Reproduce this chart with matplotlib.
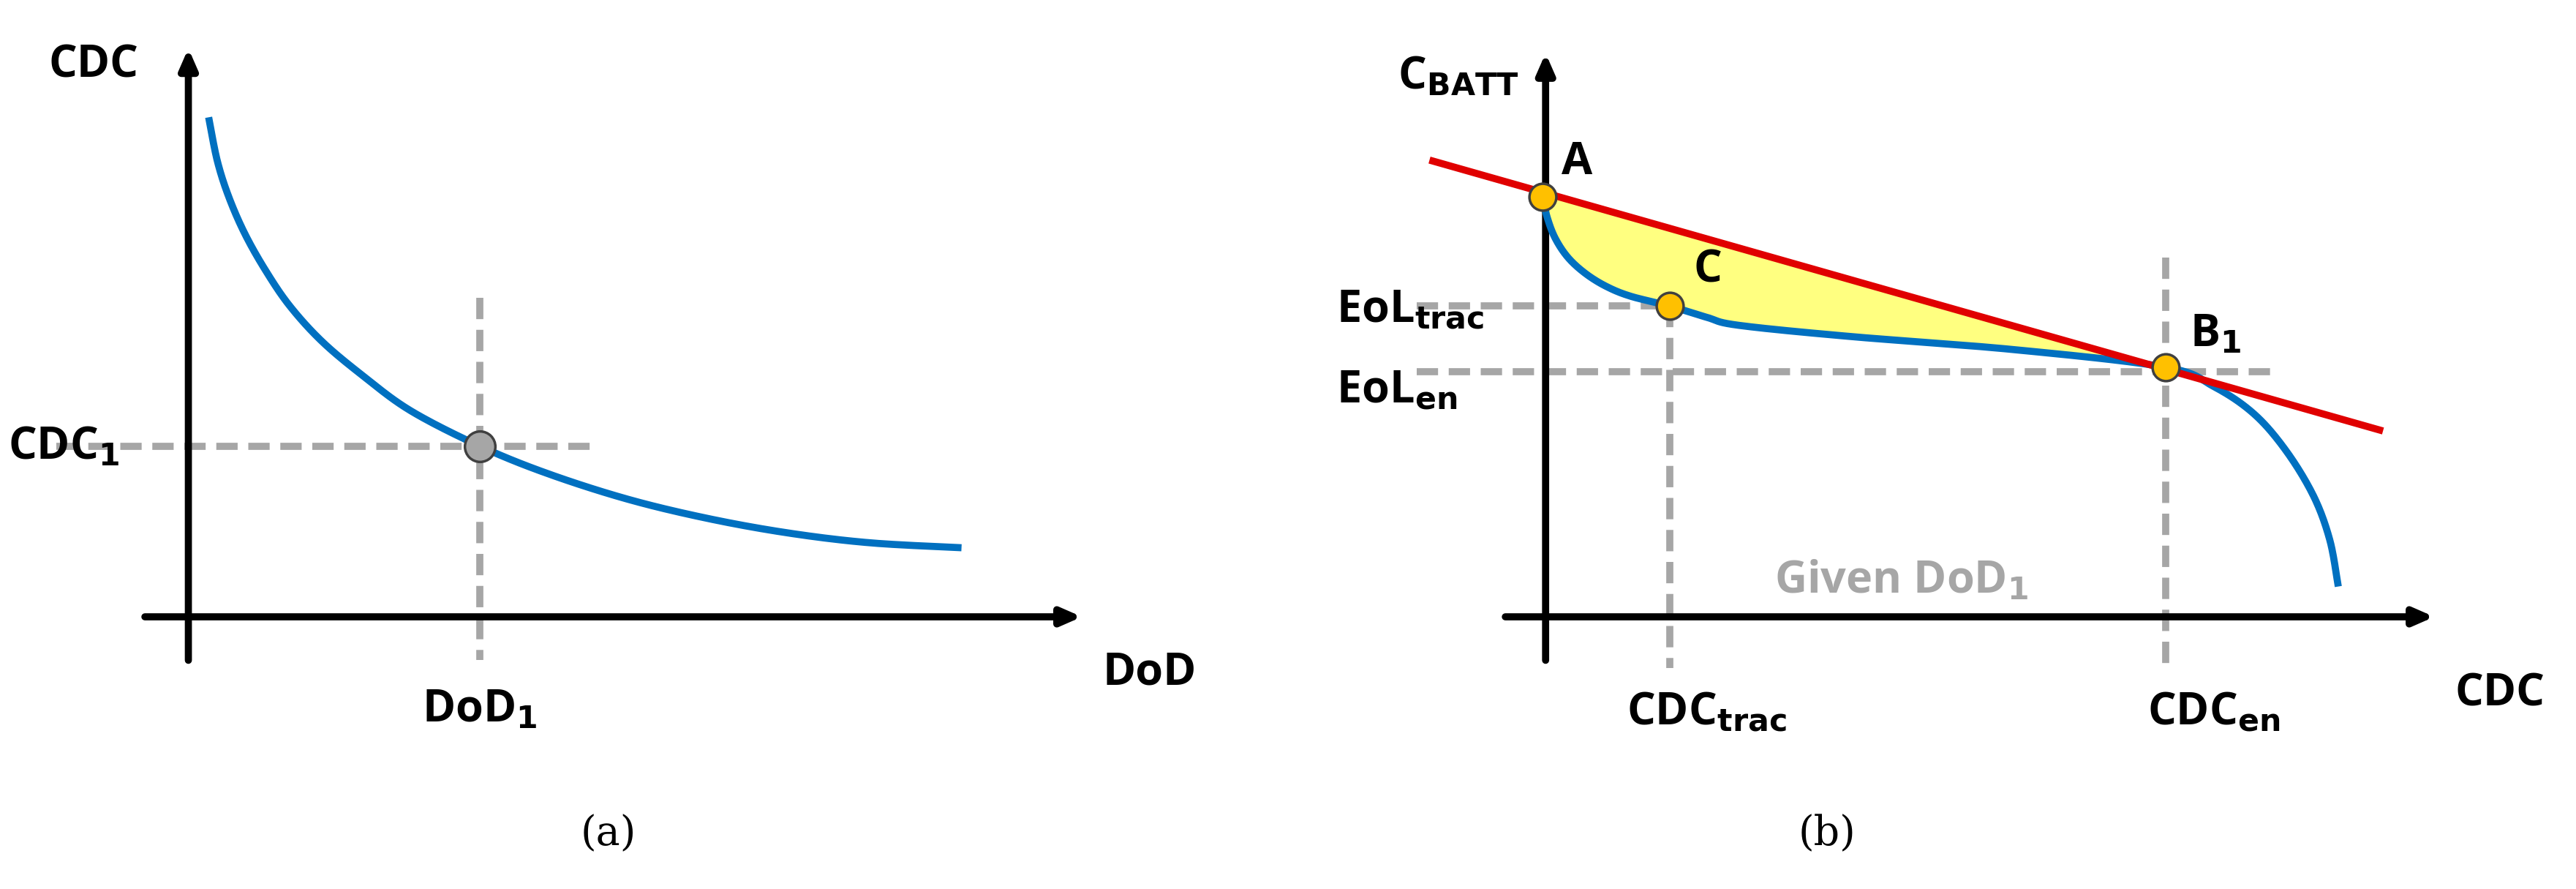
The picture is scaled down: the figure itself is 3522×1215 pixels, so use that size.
import matplotlib
matplotlib.use("Agg")
import matplotlib.pyplot as plt
import numpy as np

# schematic data (in view units)
left_curve_x = [130,135,142,152,165,180,200,225,255,298,340,390,440,490,540,595]
left_curve_y = [75,100,122,145,168,190,212,233,255,277,294,310,322,331,337,340]
left_point = (298, 277)
right_curve_x = [958,961,966,974,985,998,1013,1037,1060,1080,1150,1250,1345,1375,1400,1420,1437,1447,1452]
right_curve_y = [122,135,148,160,170,178,184,190,197,202,209,217,228,240,257,280,308,335,362]
red_line_x = [890, 1478]
red_line_y = [100, 267]
points_b = {"A": (958,122), "C": (1037,190), "B1": (1345,228)}

def smooth(xs, ys, n=20):
    p = np.column_stack([xs, ys]).astype(float)
    p = np.vstack([p[0], p, p[-1]])
    out = []
    for i in range(1, len(p) - 2):
        p0, p1, p2, p3 = p[i-1], p[i], p[i+1], p[i+2]
        for t in np.linspace(0, 1, n, endpoint=False):
            out.append(0.5*((2*p1) + (-p0+p2)*t + (2*p0-5*p1+4*p2-p3)*t**2 + (-p0+3*p1-3*p2+p3)*t**3))
    out.append(p[-2])
    out = np.array(out)
    return out[:, 0], out[:, 1]

fig = plt.figure(figsize=(35.22, 12.15), dpi=100)
ax = fig.add_axes([0,0,1,1])
ax.set_xlim(0, 1600); ax.set_ylim(552, 0); ax.axis('off')

FONT = ['Open Sans', 'DejaVu Sans']
fs = 44
grey = '#A6A6A6'; blue = '#0070C0'; red = '#E00000'

def arrow(x0, y0, x1, y1):
    ax.annotate('', xy=(x1, y1), xytext=(x0, y0),
                arrowprops=dict(arrowstyle='-|>,head_length=1.6,head_width=0.7', color='black', lw=7, shrinkA=0, shrinkB=0))

def dash(xs, ys):
    ax.plot(xs, ys, color=grey, lw=7, ls=(0, (3, 1.5)), zorder=1)

def t(x, y, s, **k):
    k.setdefault('fontsize', fs); k.setdefault('fontweight', 'bold')
    ax.text(x, y, s, family=FONT, **k)

# panel a
dash([35, 370], [277, 277]); dash([298, 298], [185, 410])
arrow(117, 410, 117, 30); arrow(90, 383, 672, 383)
lx, ly = smooth(left_curve_x, left_curve_y)
ax.plot(lx, ly, color=blue, lw=7, zorder=3)
ax.scatter(*left_point, s=900, color=grey, edgecolor='#404040', lw=2.5, zorder=5)
t(30, 48, 'CDC')
t(5, 285, r'CDC$_\mathbf{1}$')
t(685, 425, 'DoD')
t(298, 448, r'DoD$_\mathbf{1}$', ha='center')
ax.text(378, 525, '(a)', fontsize=40, family='DejaVu Serif', ha='center')

# panel b
dash([880, 1070], [190, 190]); dash([1037, 1037], [190, 415])
dash([880, 1410], [231, 231]); dash([1345, 1345], [160, 415])
arrow(960, 410, 960, 33); arrow(935, 383, 1512, 383)
rx, ry = smooth(right_curve_x, right_curve_y)
m = rx <= 1345
liney = np.interp(rx[m], red_line_x, red_line_y)
ax.fill_between(rx[m], liney, ry[m], color='#FFFF80', zorder=2)
ax.plot(rx, ry, color=blue, lw=7, zorder=3)
ax.plot(red_line_x, red_line_y, color=red, lw=7, zorder=4)
for k, (x, y) in points_b.items():
    ax.scatter(x, y, s=700, color='#FFC000', edgecolor='#404040', lw=2.5, zorder=6)
t(868, 55, r'C$_\mathbf{BATT}$')
t(970, 108, 'A')
t(1052, 175, 'C')
t(1360, 215, r'B$_\mathbf{1}$')
t(830, 200, r'EoL$_\mathbf{trac}$')
t(830, 250, r'EoL$_\mathbf{en}$')
t(1102, 368, r'Given DoD$_\mathbf{1}$', color=grey)
t(1525, 438, 'CDC')
t(1060, 450, r'CDC$_\mathbf{trac}$', ha='center')
t(1375, 450, r'CDC$_\mathbf{en}$', ha='center')
ax.text(1135, 525, '(b)', fontsize=40, family='DejaVu Serif', ha='center')

fig.savefig('out.png', dpi=100)
